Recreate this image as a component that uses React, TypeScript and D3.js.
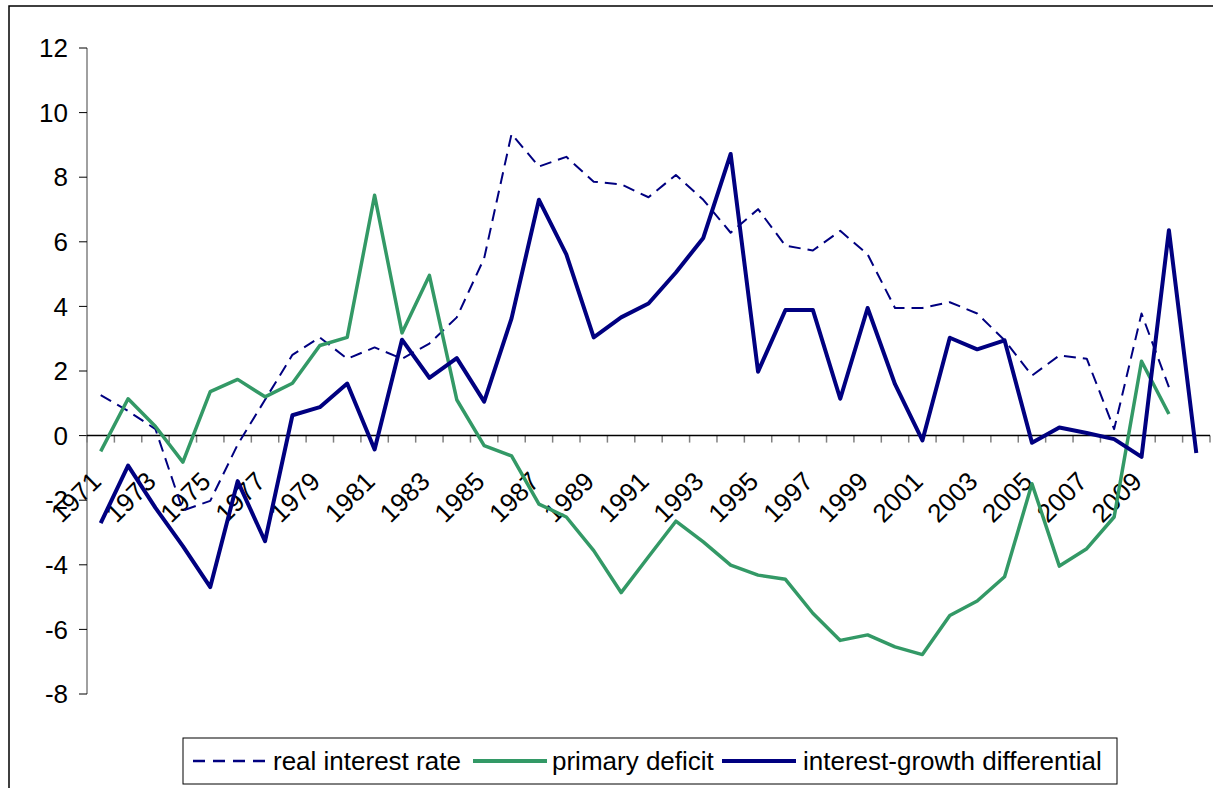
import React from 'react';
import * as d3 from 'd3';

// years 1971..2011
const years = [
  '1971', '1972', '1973', '1974', '1975', '1976', '1977', '1978', '1979', '1980',
  '1981', '1982', '1983', '1984', '1985', '1986', '1987', '1988', '1989', '1990',
  '1991', '1992', '1993', '1994', '1995', '1996', '1997', '1998', '1999', '2000',
  '2001', '2002', '2003', '2004', '2005', '2006', '2007', '2008', '2009', '2010', '2011',
];

const xTickLabels = [
  '1971', '1973', '1975', '1977', '1979', '1981', '1983', '1985', '1987', '1989',
  '1991', '1993', '1995', '1997', '1999', '2001', '2003', '2005', '2007', '2009',
];

const yTicks = [-8, -6, -4, -2, 0, 2, 4, 6, 8, 10, 12];

const realInterestRate: (number | null)[] = [
  1.25, 0.76, 0.2, -2.32, -2.02, -0.28, 1.11, 2.5, 3.04, 2.38,
  2.73, 2.38, 2.85, 3.66, 5.49, 9.34, 8.33, 8.63, 7.86, 7.78,
  7.38, 8.07, 7.3, 6.28, 7.01, 5.88, 5.73, 6.34, 5.61, 3.95,
  3.95, 4.13, 3.78, 2.95, 1.86, 2.48, 2.38, 0.2, 3.78, 1.5, null,
];

const primaryDeficit: (number | null)[] = [
  -0.49, 1.14, 0.28, -0.82, 1.36, 1.74, 1.2, 1.62, 2.79, 3.04,
  7.44, 3.18, 4.96, 1.11, -0.31, -0.63, -2.12, -2.52, -3.56, -4.86,
  -3.75, -2.65, -3.29, -4.01, -4.32, -4.45, -5.5, -6.34, -6.17, -6.54,
  -6.78, -5.57, -5.12, -4.37, -1.49, -4.04, -3.5, -2.52, 2.3, 0.67, null,
];

const interestGrowthDiff: (number | null)[] = [
  -2.71, -0.93, -2.24, -3.42, -4.69, -1.41, -3.27, 0.63, 0.88, 1.61,
  -0.43, 2.97, 1.79, 2.4, 1.05, 3.63, 7.3, 5.61, 3.04, 3.66,
  4.09, 5.05, 6.12, 8.72, 1.98, 3.89, 3.89, 1.14, 3.95, 1.59,
  -0.15, 3.03, 2.67, 2.95, -0.22, 0.25, 0.08, -0.11, -0.66, 6.36, -0.54,
];

const NAVY = '#000080';
const GREEN = '#339966';
const FONT = '"Liberation Sans", Arial, sans-serif';

export default function App() {
  const width = 1213;
  const height = 788;

  const x = d3.scaleBand<string>().domain(years).range([87, 1210]).padding(0);
  const y = d3.scaleLinear().domain([-8, 12]).range([694, 48]);
  const cx = (i: number) => (x(years[i]) as number) + x.bandwidth() / 2;

  const line = d3
    .line<number | null>()
    .defined((d) => d !== null)
    .x((_, i) => cx(i))
    .y((d) => y(d as number));

  const y0 = y(0);
  const boundaries = d3.range(years.length + 1).map((i) => 87 + i * x.bandwidth());

  const series = [
    { name: 'real interest rate', data: realInterestRate, color: NAVY, w: 2, dash: '12,7' },
    { name: 'primary deficit', data: primaryDeficit, color: GREEN, w: 3.5, dash: undefined },
    { name: 'interest-growth differential', data: interestGrowthDiff, color: NAVY, w: 4, dash: undefined },
  ];

  const legendItems = [
    { x1: 193, tx: 273 },
    { x1: 473, tx: 552 },
    { x1: 722, tx: 803 },
  ];

  return (
    <svg
      width={width}
      height={height}
      style={{ position: 'absolute', left: 0, top: 0, background: '#fff', fontFamily: FONT }}
    >
      <rect x={0} y={0} width={width} height={height} fill="#fff" />
      {/* outer chart frame */}
      <rect x={9} y={6} width={1240} height={820} fill="none" stroke="#000" strokeWidth={1.5} />

      {/* y axis */}
      <line x1={87} x2={87} y1={y(12)} y2={y(-8)} stroke="#808080" strokeWidth={1.5} />
      {yTicks.map((t) => (
        <g key={t}>
          <line x1={79} x2={87} y1={y(t)} y2={y(t)} stroke="#000" strokeWidth={1} />
          <text x={68} y={y(t)} dy="0.35em" textAnchor="end" fontSize={26} fill="#000">
            {t}
          </text>
        </g>
      ))}

      {/* x axis at zero */}
      {boundaries.map((bx, i) => (
        <line key={i} x1={bx} x2={bx} y1={y0} y2={y0 + 7} stroke="#808080" strokeWidth={1.5} />
      ))}
      <line x1={87} x2={1210} y1={y0} y2={y0} stroke="#000" strokeWidth={1.5} />
      {xTickLabels.map((lab) => {
        const px = (x(lab) as number) + x.bandwidth() / 2 + 2;
        const py = 483;
        return (
          <text
            key={lab}
            x={px}
            y={py}
            textAnchor="end"
            fontSize={26}
            fill="#000"
            transform={`rotate(-45, ${px}, ${py})`}
          >
            {lab}
          </text>
        );
      })}

      {/* series */}
      {series.map((s) => (
        <path
          key={s.name}
          d={line(s.data) || ''}
          fill="none"
          stroke={s.color}
          strokeWidth={s.w}
          strokeDasharray={s.dash}
          strokeLinejoin="round"
        />
      ))}

      {/* legend */}
      <rect x={183} y={738} width={934} height={46} fill="#fff" stroke="#000" strokeWidth={1} />
      {series.map((s, i) => (
        <g key={s.name}>
          <line
            x1={legendItems[i].x1}
            x2={legendItems[i].x1 + 74}
            y1={761}
            y2={761}
            stroke={s.color}
            strokeWidth={s.dash ? 2.5 : 4}
            strokeDasharray={s.dash ? '12,8' : undefined}
          />
          <text x={legendItems[i].tx} y={761} dy="0.35em" fontSize={26} fill="#000">
            {s.name}
          </text>
        </g>
      ))}
    </svg>
  );
}
